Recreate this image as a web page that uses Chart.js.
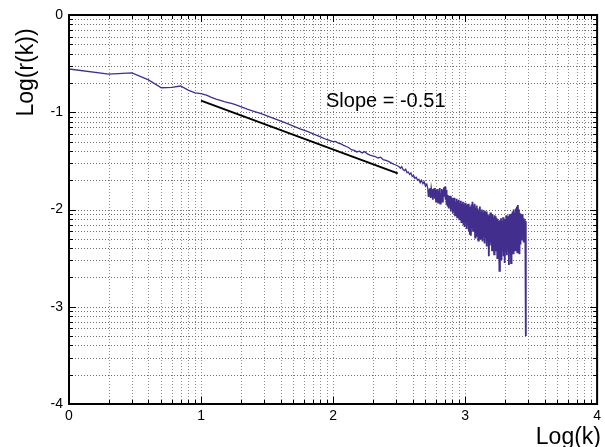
<!DOCTYPE html>
<html>
<head>
<meta charset="utf-8">
<script src="https://cdn.jsdelivr.net/npm/chart.js@4/dist/chart.umd.min.js"></script>
<style>
html,body{margin:0;padding:0;background:#fff;}
#wrap{width:605px;height:447px;}
</style>
</head>
<body>
<div id="wrap"><canvas id="c" width="605" height="447"></canvas></div>
<script>
// ---- data ----
// smooth part (k = 1 ... ~500), x = log10(k)
const logK = [
0,0.301,0.477,0.602,0.699,0.778,0.845,0.903,0.954,1.000,
1.041,1.079,1.114,1.146,1.176,1.204,1.230,1.255,1.30,1.35,1.40,1.45,1.50,1.55,1.60,1.65,1.70,1.75,1.80,1.85,1.90,1.95,2.00,
2.02,2.04,2.06,2.08,2.10,2.12,2.14,2.16,2.18,2.20,2.22,2.24,2.26,2.28,2.30,2.32,2.34,2.36,2.38,2.40,2.42,2.44,2.46,2.48,2.50,
2.51,2.52,2.53,2.54,2.55,2.56,2.57,2.58,2.59,2.60,2.61,2.62,2.63,2.64,2.65,2.66,2.67,2.68,2.69,2.70,2.71,2.72
];
const logR = [
-0.555,-0.607,-0.595,-0.667,-0.748,-0.745,-0.730,-0.772,-0.800,-0.808,
-0.825,-0.848,-0.866,-0.878,-0.890,-0.900,-0.910,-0.920,-0.942,-0.968,-0.990,-1.012,-1.038,-1.062,-1.088,-1.115,-1.142,-1.170,-1.195,-1.222,-1.250,-1.280,-1.302,
-1.300,-1.318,-1.325,-1.340,-1.352,-1.365,-1.385,-1.392,-1.408,-1.400,-1.418,-1.405,-1.428,-1.440,-1.448,-1.455,-1.470,-1.462,-1.488,-1.495,-1.505,-1.520,-1.535,-1.545,-1.560,
-1.575,-1.560,-1.590,-1.600,-1.585,-1.620,-1.615,-1.640,-1.625,-1.660,-1.650,-1.680,-1.668,-1.700,-1.690,-1.725,-1.700,-1.735,-1.715,-1.760,-1.740,-1.800
];
// noisy tail (high k), x = log10(k)
const tailK = [
2.724,2.728,2.732,2.736,2.740,2.744,2.748,2.752,2.756,2.760,2.764,2.768,2.772,2.776,2.780,2.784,2.788,2.792,2.796,2.800,
2.804,2.808,2.812,2.816,2.820,2.824,2.828,2.832,2.836,2.840,2.844,2.848,2.852,2.856,2.860,2.864,2.868,2.872,2.876,2.880,
2.884,2.888,2.892,2.896,2.900,2.904,2.908,2.912,2.916,2.920,2.924,2.928,2.932,2.936,2.940,2.944,2.948,2.952,2.956,2.960,
2.964,2.968,2.972,2.976,2.980,2.984,2.988,2.992,2.996,3.000,3.004,3.008,3.012,3.016,3.020,3.024,3.028,3.032,3.036,3.040,
3.044,3.048,3.052,3.056,3.060,3.064,3.068,3.072,3.076,3.080,3.084,3.088,3.092,3.096,3.100,3.104,3.108,3.112,3.116,3.120,
3.124,3.128,3.132,3.136,3.140,3.144,3.148,3.152,3.156,3.160,3.164,3.168,3.172,3.176,3.180,3.184,3.188,3.192,3.196,3.200,
3.204,3.208,3.212,3.216,3.220,3.224,3.228,3.232,3.236,3.240,3.244,3.248,3.252,3.256,3.260,3.264,3.268,3.272,3.276,3.280,
3.284,3.288,3.292,3.296,3.300,3.304,3.308,3.312,3.316,3.320,3.324,3.328,3.332,3.336,3.340,3.344,3.348,3.352,3.356,3.360,
3.364,3.368,3.372,3.376,3.380,3.384,3.388,3.392,3.396,3.400,3.404,3.408,3.412,3.416,3.420,3.424,3.428,3.432,3.436,3.440,
3.444,3.448,3.452,3.456,3.460
];
const tailR = [
-1.87,-1.79,-1.85,-1.78,-1.88,-1.80,-1.84,-1.79,-1.90,-1.81,-1.86,-1.78,-1.89,-1.82,-1.92,-1.80,-1.87,-1.79,-1.93,-1.81,
-1.89,-1.78,-1.94,-1.83,-1.88,-1.79,-1.92,-1.80,-1.86,-1.77,-1.84,-1.765,-1.90,-1.80,-1.95,-1.85,-1.97,-1.86,-1.99,-1.87,
-1.96,-1.86,-2.02,-1.89,-1.99,-1.88,-2.04,-1.90,-2.01,-1.88,-2.06,-1.92,-2.03,-1.89,-2.08,-1.91,-2.05,-1.90,-2.10,-1.93,
-2.08,-1.91,-2.13,-1.94,-2.10,-1.92,-2.16,-1.95,-2.18,-1.93,-2.13,-1.96,-2.20,-1.95,-2.16,-1.94,-2.22,-1.97,-2.26,-1.99,
-2.27,-1.95,-2.19,-1.92,-2.22,-1.96,-2.17,-1.94,-2.29,-1.98,-2.21,-1.96,-2.27,-1.99,-2.32,-2.01,-2.23,-1.97,-2.30,-2.02,
-2.26,-2.00,-2.33,-2.03,-2.28,-2.01,-2.35,-2.04,-2.29,-2.02,-2.38,-2.05,-2.32,-2.06,-2.48,-2.08,-2.37,-2.03,-2.34,-2.06,
-2.42,-2.05,-2.38,-2.08,-2.46,-2.06,-2.35,-2.07,-2.42,-2.09,-2.50,-2.10,-2.40,-2.12,-2.63,-2.11,-2.45,-2.09,-2.52,-2.12,
-2.42,-2.08,-2.48,-2.10,-2.55,-2.13,-2.43,-2.06,-2.47,-2.09,-2.40,-2.07,-2.57,-2.05,-2.44,-2.07,-2.55,-2.04,-2.38,-2.02,
-2.45,-2.00,-2.34,-2.03,-2.42,-1.99,-2.37,-1.97,-2.44,-1.955,-2.35,-2.00,-2.46,-2.04,-2.36,-2.07,-2.32,-2.05,-2.30,-2.09,
-2.34,-2.10,-2.30,-2.12,-3.30
];
// fitted slope line
const fitX = [1.0, 2.49];
const fitY = [-0.881, -1.628];
const xMajor = [0,1,2,3,4];
const yMajor = [-4,-3,-2,-1,0];
const annotationText = "Slope = -0.51";
const xTitle = "Log(k)";
const yTitle = "Log(r(k))";

// log-decade grid positions
function decadeGrid(from, to){
  const out=[];
  for(let d=from; d<to; d++){ for(let m=1;m<=9;m++){ out.push(d+Math.log10(m)); } }
  out.push(to); return out;
}
const xGrid = decadeGrid(xMajor[0], xMajor[xMajor.length-1]);
const yGrid = decadeGrid(yMajor[0], yMajor[yMajor.length-1]);
const isMajor = v => Math.abs(v-Math.round(v))<1e-9;

const smooth = logK.map((x,i)=>({x:x,y:logR[i]}));
const tail = [smooth[smooth.length-1]].concat(tailK.map((x,i)=>({x:x,y:tailR[i]})));
const fit = fitX.map((x,i)=>({x:x,y:fitY[i]}));

const FONT = "'Liberation Sans', Arial, sans-serif";
const PURPLE = 'rgb(66,46,140)';

const gridPlugin = {
  id:'dotgrid',
  beforeDatasetsDraw(chart){
    const {ctx, chartArea:a, scales:{x, y}} = chart;
    ctx.save();
    ctx.strokeStyle='#8c8c8c';
    ctx.lineWidth=1;
    ctx.setLineDash([1,2]);
    ctx.beginPath();
    xGrid.forEach(v=>{
      const px=Math.round(x.getPixelForValue(v))+0.5;
      ctx.moveTo(px,a.top); ctx.lineTo(px,a.bottom);
    });
    ctx.stroke();
    ctx.strokeStyle='#6e6e6e';
    ctx.beginPath();
    yGrid.forEach(v=>{
      const py=Math.round(y.getPixelForValue(v))+0.5;
      ctx.moveTo(a.left,py); ctx.lineTo(a.right,py);
    });
    ctx.stroke();
    ctx.restore();
  }
};

const framePlugin = {
  id:'frame',
  afterDraw(chart){
    const {ctx, chartArea:a, scales:{x, y}} = chart;
    ctx.save();
    ctx.strokeStyle='#000';
    ctx.lineWidth=1;
    ctx.beginPath();
    xGrid.forEach(v=>{
      const px=Math.round(x.getPixelForValue(v))+0.5;
      const L=isMajor(v)?7:4;
      ctx.moveTo(px,a.bottom); ctx.lineTo(px,a.bottom-L);
      ctx.moveTo(px,a.top); ctx.lineTo(px,a.top+L);
    });
    yGrid.forEach(v=>{
      const py=Math.round(y.getPixelForValue(v))+0.5;
      const L=isMajor(v)?7:4;
      ctx.moveTo(a.left,py); ctx.lineTo(a.left+L,py);
      ctx.moveTo(a.right,py); ctx.lineTo(a.right-L,py);
    });
    ctx.stroke();
    ctx.lineWidth=2;
    ctx.strokeRect(a.left, a.top, a.right-a.left, a.bottom-a.top);
    ctx.fillStyle='#000';
    ctx.font='20px '+FONT;
    ctx.textAlign='left'; ctx.textBaseline='alphabetic';
    ctx.fillText(annotationText, 326, 107);
    ctx.font='23px '+FONT;
    ctx.textAlign='right';
    ctx.fillText(xTitle, 601, 444);
    ctx.translate(33, 72.5);
    ctx.rotate(-Math.PI/2);
    ctx.textAlign='center';
    ctx.fillText(yTitle, 0, 0);
    ctx.restore();
  }
};

new Chart(document.getElementById('c'), {
  type:'line',
  data:{ datasets:[
    { data:smooth, borderColor:PURPLE, borderWidth:1.3, pointRadius:0, tension:0, fill:false },
    { data:tail, borderColor:PURPLE, borderWidth:1.8, pointRadius:0, tension:0, fill:false },
    { data:fit, borderColor:'#000', borderWidth:2, pointRadius:0, tension:0, fill:false }
  ]},
  options:{
    responsive:false, animation:false,
    layout:{ padding:{ left:0, top:15, right:7, bottom:0 } },
    plugins:{ legend:{display:false}, tooltip:{enabled:false} },
    scales:{
      x:{
        type:'linear', min:0, max:4,
        afterBuildTicks(s){ s.ticks = xGrid.map(v=>({value:v})); },
        afterFit(s){ s.height = 43; },
        ticks:{ autoSkip:false, maxRotation:0, padding:4, color:'#000', font:{family:FONT,size:14},
          callback:(v)=> isMajor(v)? String(Math.round(v)) : '' },
        grid:{ display:false, drawTicks:false },
        border:{ display:false }
      },
      y:{
        type:'linear', min:-4, max:0,
        afterBuildTicks(s){ s.ticks = yGrid.map(v=>({value:v})); },
        afterFit(s){ s.width = 69; },
        ticks:{ autoSkip:false, padding:6, color:'#000', font:{family:FONT,size:14},
          callback:(v)=> isMajor(v)? String(Math.round(v)) : '' },
        grid:{ display:false, drawTicks:false },
        border:{ display:false }
      }
    }
  },
  plugins:[gridPlugin, framePlugin]
});
</script>
</body>
</html>
